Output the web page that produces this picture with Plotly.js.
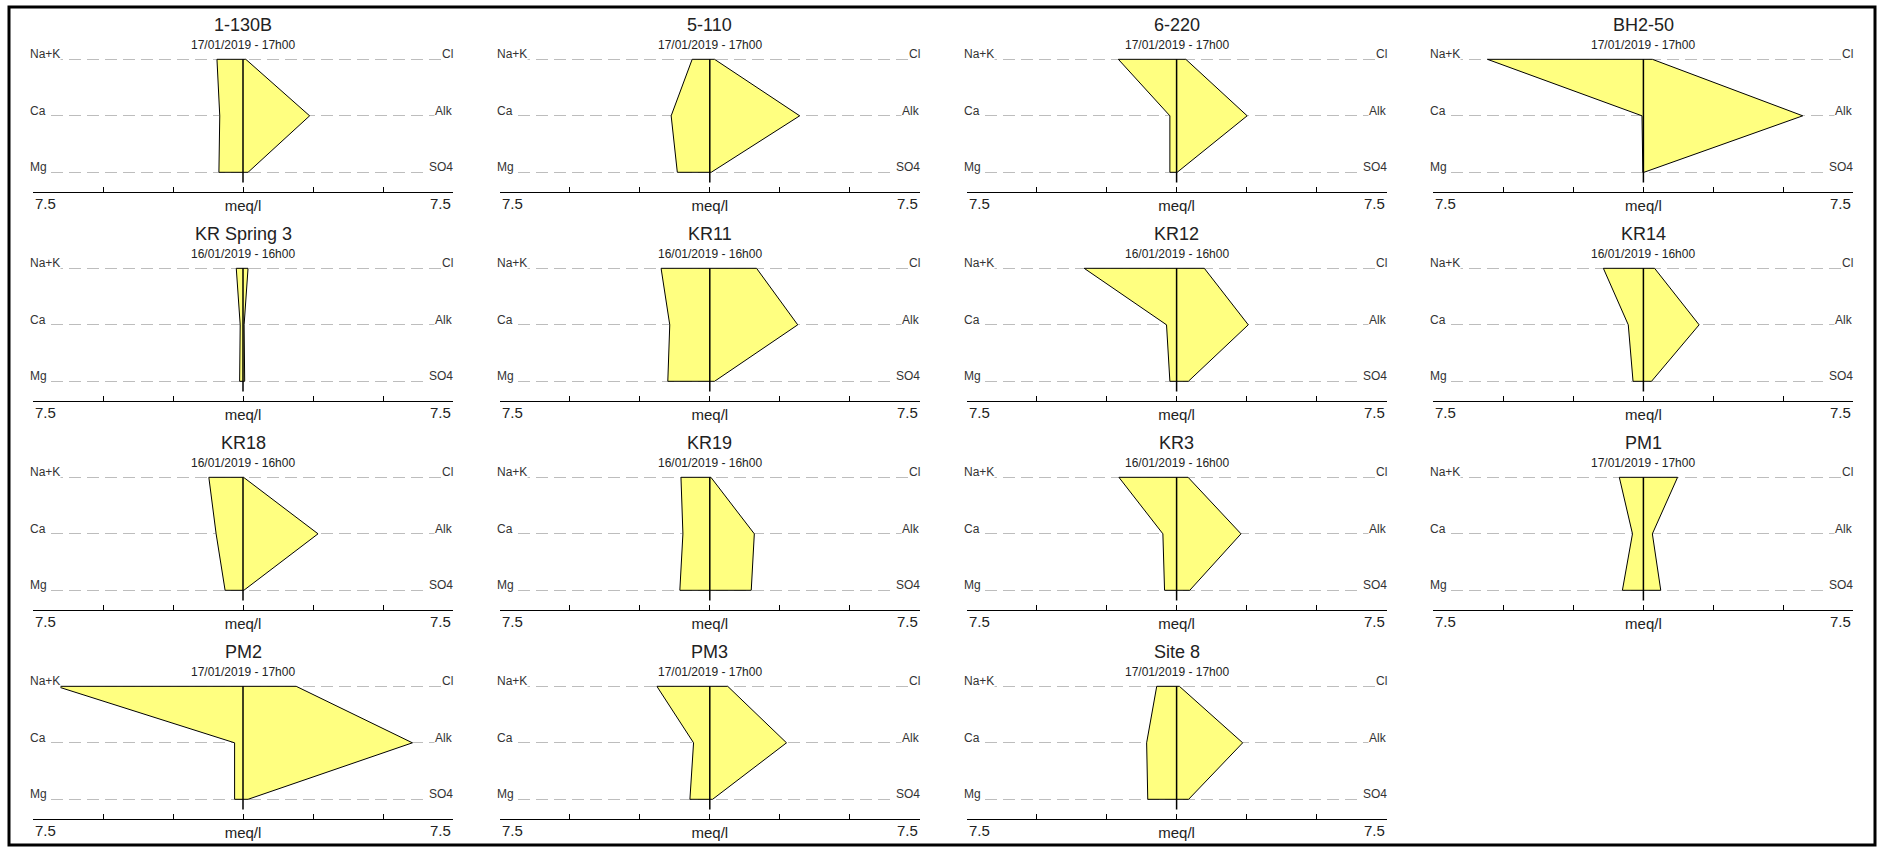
<!DOCTYPE html>
<html>
<head>
<meta charset="utf-8">
<script src="https://cdn.plot.ly/plotly-3.0.1.min.js"></script>
<style>html,body{margin:0;padding:0;background:#fff;}#chart{width:1883px;height:847px;}</style>
</head>
<body>
<div id="chart"></div>
<script>
// ---- data (meq/l) ----
const sites = ['1-130B','5-110','6-220','BH2-50','KR Spring 3','KR11','KR12','KR14','KR18','KR19','KR3','PM1','PM2','PM3','Site 8'];
const dates = ['17/01/2019 - 17h00','17/01/2019 - 17h00','17/01/2019 - 17h00','17/01/2019 - 17h00',
               '16/01/2019 - 16h00','16/01/2019 - 16h00','16/01/2019 - 16h00','16/01/2019 - 16h00',
               '16/01/2019 - 16h00','16/01/2019 - 16h00','16/01/2019 - 16h00','17/01/2019 - 17h00',
               '17/01/2019 - 17h00','17/01/2019 - 17h00','17/01/2019 - 17h00'];
const nak = [0.93,0.63,2.08,5.57,0.24,1.74,3.30,1.43,1.22,1.03,2.06,0.86,6.66,1.89,0.71];
const ca  = [0.83,1.38,0.24,0.05,0.10,1.43,0.36,0.54,0.96,0.96,0.49,0.39,0.30,0.58,1.07];
const mg  = [0.86,1.16,0.24,0.02,0.12,1.50,0.24,0.37,0.64,1.07,0.43,0.75,0.30,0.71,1.03];
const cl  = [0.10,0.17,0.33,0.32,0.18,1.67,0.99,0.40,0.02,0.04,0.41,1.22,1.90,0.64,0.10];
const alk = [2.38,3.21,2.52,5.69,0.04,3.14,2.56,1.99,2.68,1.59,2.30,0.32,6.05,2.74,2.36];
const so4 = [0.18,0.05,0.02,0.02,0.06,0.17,0.42,0.29,0.03,1.48,0.47,0.62,0.18,0.10,0.43];
const cationLabels = ['Na+K','Ca','Mg'];
const anionLabels  = ['Cl','Alk','SO4'];
const scaleMax = 7.5;
const scaleTicks = [-7.5,-5,-2.5,0,2.5,5,7.5];
const endLabel = '7.5';
const unitLabel = 'meq/l';

// ---- build ----
const W = 1883, H = 847;
const FONT = 'Liberation Sans, Arial, sans-serif';
const traces = [], shapes = [], annotations = [];
const layout = {
  width: W, height: H, margin: {l:0, r:0, t:0, b:0},
  paper_bgcolor: '#fff', plot_bgcolor: '#fff', showlegend: false,
  font: {family: FONT, color: '#222'}
};
const nIons = cationLabels.length;
const yTop = nIons - 1;              // Na+K / Cl row
const yMin = -0.345, yMax = yTop + 0.05;

sites.forEach((site, i) => {
  const n = i + 1;
  const xa = i === 0 ? 'x' : 'x' + n, ya = i === 0 ? 'y' : 'y' + n;
  const col = i % 4, row = Math.floor(i / 4);
  const L = 33 + col * 466.8, R = L + 420;
  const topRowPx = 59.3 + row * 209;
  const axisPx = topRowPx + 132.5;
  const domTopPx = topRowPx - 2.8;

  layout[i === 0 ? 'xaxis' : 'xaxis' + n] = {
    domain: [L / W, R / W], anchor: ya, range: [-scaleMax, scaleMax],
    showline: true, linecolor: '#000', linewidth: 1,
    ticks: 'inside', ticklen: 5, tickwidth: 1, tickcolor: '#000',
    tickvals: scaleTicks, ticktext: scaleTicks.map(v => v === 0 ? unitLabel : ''),
    tickfont: {size: 15, color: '#222', family: FONT},
    showgrid: false, zeroline: false, fixedrange: true
  };
  layout[i === 0 ? 'yaxis' : 'yaxis' + n] = {
    domain: [1 - axisPx / H, 1 - domTopPx / H], anchor: xa, range: [yMin, yMax],
    tickvals: cationLabels.map((_, k) => yTop - k), showticklabels: false, ticks: '',
    showgrid: true, gridcolor: '#BDBDBD', gridwidth: 1, griddash: '12px,6px',
    zeroline: false, showline: false, fixedrange: true
  };

  const cat = [nak[i], ca[i], mg[i]];
  const an = [cl[i], alk[i], so4[i]];
  const rowsY = cat.map((_, k) => yTop - k);
  const px = cat.map(v => -v).concat(an.slice().reverse());
  const py = rowsY.concat(rowsY.slice().reverse());
  px.push(px[0]); py.push(py[0]);
  traces.push({
    type: 'scatter', mode: 'lines', x: px, y: py, xaxis: xa, yaxis: ya,
    fill: 'toself', fillcolor: '#FFFF80', line: {color: '#000', width: 1},
    hoverinfo: 'skip', showlegend: false, cliponaxis: false
  });

  shapes.push({type: 'line', xref: xa, yref: ya, x0: 0, x1: 0, y0: yTop, y1: -0.18,
               line: {color: '#000', width: 1.5}, layer: 'above'});

  annotations.push({xref: xa, yref: ya, x: 0, y: yTop, yshift: 34, xanchor: 'center', yanchor: 'middle',
    text: site, showarrow: false, font: {size: 18, color: '#222', family: FONT}});
  annotations.push({xref: xa, yref: ya, x: 0, y: yTop, yshift: 14, xanchor: 'center', yanchor: 'middle',
    text: dates[i], showarrow: false, font: {size: 12, color: '#222', family: FONT}});
  rowsY.forEach((yy, k) => {
    annotations.push({xref: xa, yref: ya, x: -scaleMax, y: yy, xshift: -4, yshift: 5,
      xanchor: 'left', yanchor: 'middle', text: cationLabels[k], showarrow: false,
      bgcolor: '#fff', borderpad: 0, font: {size: 12, color: '#333', family: FONT}});
    annotations.push({xref: xa, yref: ya, x: scaleMax, y: yy, xshift: 1, yshift: 5,
      xanchor: 'right', yanchor: 'middle', text: anionLabels[k], showarrow: false,
      bgcolor: '#fff', borderpad: 0, font: {size: 12, color: '#333', family: FONT}});
  });
  annotations.push({xref: xa, yref: ya, x: -scaleMax, y: yMin, yshift: -1, xshift: 0,
    xanchor: 'left', yanchor: 'top', text: endLabel, showarrow: false,
    font: {size: 15, color: '#222', family: FONT}});
  annotations.push({xref: xa, yref: ya, x: scaleMax, y: yMin, yshift: -1, xshift: 0,
    xanchor: 'right', yanchor: 'top', text: endLabel, showarrow: false,
    font: {size: 15, color: '#222', family: FONT}});
});

shapes.push({type: 'rect', xref: 'paper', yref: 'paper',
  x0: 9 / W, x1: 1875 / W, y0: 1 - 845 / H, y1: 1 - 7 / H,
  line: {color: '#000', width: 3}, fillcolor: 'rgba(0,0,0,0)', layer: 'above'});

layout.shapes = shapes;
layout.annotations = annotations;
Plotly.newPlot('chart', traces, layout, {staticPlot: true, displayModeBar: false});
</script>
</body>
</html>
